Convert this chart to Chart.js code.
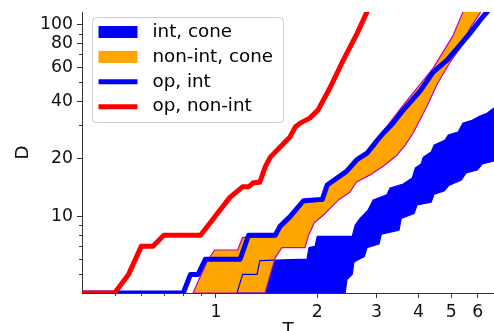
<!DOCTYPE html>
<html><head><meta charset="utf-8">
<script src="https://cdn.jsdelivr.net/npm/chart.js@4/dist/chart.umd.min.js"></script>
<style>html,body{margin:0;padding:0;overflow:hidden;background:#fff}canvas{display:block}</style>
</head><body>
<canvas id="c" width="494" height="350"></canvas>
<script>
// ---- data (T, D) ----
const opNonIntT = [0.4, 0.5, 0.55, 0.6, 0.65, 0.7, 0.9, 1.1, 1.2, 1.25, 1.29, 1.35, 1.4, 1.45, 1.55, 1.66, 1.72, 1.78, 1.9, 2.01, 2.18, 2.39, 2.63, 2.81, 2.97];
const opNonIntD = [4, 4, 5, 7, 7, 8, 8, 12.6, 14.3, 14.3, 15, 15.1, 18.1, 20.4, 23, 26, 29.3, 30.7, 32.6, 35.9, 46.8, 65.4, 90.4, 116.7, 134];

const opIntT = [0.4, 0.8, 0.84, 0.885, 0.93, 1.18, 1.25, 1.5, 1.55, 1.66, 1.82, 2.07, 2.14, 2.29, 2.45, 2.63, 2.81, 2.97, 3.14, 3.34, 3.6, 4.04, 4.42, 4.86, 5.31, 5.69, 6.09, 6.39, 6.7];
const opIntD = [4, 4, 5, 5, 6, 6, 8, 8, 8.9, 10, 12.1, 12.3, 14.6, 15.9, 17.3, 19.9, 21.4, 24.2, 27.2, 30.4, 35.9, 45.1, 56.6, 65.4, 78.3, 90.4, 105.6, 116.7, 129.5];

const nonIntConeUpT = [0.855, 0.9, 0.94, 0.99, 1.16, 1.2, 1.5, 1.55, 1.66, 1.82, 2.07, 2.14, 2.29, 2.45, 2.63, 2.81, 2.97, 3.14, 3.6, 4.42, 5.07, 5.42, 5.69, 6.35];
const nonIntConeUpD = [4, 4.9, 5.8, 6.7, 6.7, 7.8, 7.8, 8.7, 9.7, 11.8, 12.1, 14.3, 15.5, 16.9, 19.5, 20.9, 23.3, 27.9, 38.1, 59.4, 88.3, 116.7, 134, 180];
const nonIntConeLoT = [0.855, 1.4, 1.45, 1.5, 1.57, 1.84, 1.88, 1.96, 2.1, 2.31, 2.5, 2.61, 2.87, 3.14, 3.45, 3.65, 3.85, 4.24, 4.54, 4.96, 5.31, 5.69, 6.09, 6.35];
const nonIntConeLoD = [4, 4, 5, 6.1, 6.9, 6.9, 7.9, 9.3, 10.3, 12.2, 13.4, 15.1, 16.5, 18.3, 20.9, 23.6, 27.2, 37.7, 49, 63.8, 75.5, 96, 115, 134];

const intConeUpT = [1.155, 1.2, 1.325, 1.35, 1.865, 1.89, 1.97, 2.0, 2.54, 2.59, 2.68, 2.83, 2.93, 3.22, 3.29, 3.6, 3.83, 3.91, 4.07, 4.13, 4.36, 4.45, 4.8, 4.9, 5.24, 5.42, 5.77, 6.09, 6.39, 6.7, 7.0];
const intConeUpD = [4, 5, 5, 5.9, 6, 6.9, 7, 7.9, 7.9, 9, 9.8, 10.8, 12.2, 13, 14.1, 14.8, 15.9, 17.9, 18.8, 20.4, 21.7, 23.6, 25.1, 26.6, 27.6, 30.7, 31.8, 33.4, 34.6, 36.8, 38.5];
const intConeLoT = [1.155, 2.42, 2.45, 2.54, 2.57, 2.76, 2.81, 3.05, 3.1, 3.5, 3.55, 3.88, 3.96, 4.36, 4.45, 4.76, 4.93, 5.35, 5.54, 5.97, 6.18, 6.7, 7.0];
const intConeLoD = [4, 4, 4.7, 5, 5.8, 6.2, 6.9, 7.2, 8.1, 8.5, 9.8, 10.4, 11.5, 11.9, 13.1, 13.6, 14.6, 15.5, 16.9, 17.5, 18.8, 19.5, 20.5];

const xTickValues = [1, 2, 3, 4, 5, 6];
const yTickValues = [10, 20, 40, 60, 80, 100];
const xMinorValues = [0.5, 0.6, 0.7, 0.8, 0.9];
const yMinorValues = [5, 6, 7, 8, 9, 30, 50, 70, 90];
const legendLabels = ['int, cone', 'non-int, cone', 'op, int', 'op, non-int'];

function pts(T, D) { return T.map((t, i) => ({x: t, y: D[i]})); }

const FONT = "'DejaVu Sans', sans-serif";
const AX = '#333';

const common = {pointRadius: 0, pointHoverRadius: 0, tension: 0, clip: 0, borderJoinStyle: 'round'};

const minorTicks = {
  id: 'minorTicks',
  afterDraw(chart) {
    const {ctx, chartArea: a, scales: {x, y}} = chart;
    ctx.save();
    ctx.strokeStyle = AX; ctx.lineWidth = 1;
    ctx.beginPath();
    xMinorValues.forEach(v => { const p = Math.round(x.getPixelForValue(v)) + 0.5; ctx.moveTo(p, a.bottom); ctx.lineTo(p, a.bottom + 3); });
    yMinorValues.forEach(v => { const p = Math.round(y.getPixelForValue(v)) + 0.5; ctx.moveTo(a.left - 3, p); ctx.lineTo(a.left, p); });
    ctx.stroke();
    ctx.restore();
  }
};

const boxLegend = {
  id: 'boxLegend',
  afterDatasetsDraw(chart) {
    const {ctx, chartArea: a} = chart;
    const x0 = a.left + 10.5, y0 = a.top + 5.5, w = 191, h = 105, r = 4;
    ctx.save();
    ctx.beginPath();
    ctx.moveTo(x0 + r, y0);
    ctx.arcTo(x0 + w, y0, x0 + w, y0 + h, r);
    ctx.arcTo(x0 + w, y0 + h, x0, y0 + h, r);
    ctx.arcTo(x0, y0 + h, x0, y0, r);
    ctx.arcTo(x0, y0, x0 + w, y0, r);
    ctx.closePath();
    ctx.fillStyle = 'rgba(255,255,255,0.8)';
    ctx.fill();
    ctx.strokeStyle = '#cccccc'; ctx.lineWidth = 1;
    ctx.stroke();
    legendLabels.forEach((lab, i) => {
      const ds = chart.data.datasets.find(d => d.label === lab);
      const cy = y0 + 14.5 + i * 24.9;
      const hx = x0 + 6, hw = 39;
      if (ds.fill !== false) {
        ctx.fillStyle = ds.backgroundColor;
        ctx.fillRect(hx, cy - 6, hw, 12);
      } else {
        ctx.strokeStyle = ds.borderColor; ctx.lineWidth = ds.borderWidth;
        ctx.lineCap = 'butt';
        ctx.beginPath(); ctx.moveTo(hx, cy); ctx.lineTo(hx + hw, cy); ctx.stroke();
      }
      ctx.fillStyle = '#000';
      ctx.font = '18.3px ' + FONT;
      ctx.textBaseline = 'middle';
      ctx.textAlign = 'left';
      ctx.fillText(lab, x0 + 60, cy);
    });
    ctx.restore();
  }
};

new Chart(document.getElementById('c'), {
  type: 'line',
  data: {
    datasets: [
      Object.assign({label: 'op, non-int', data: pts(opNonIntT, opNonIntD), borderColor: '#ff0000', borderWidth: 5, fill: false, order: 0}, common),
      Object.assign({label: 'op, int', data: pts(opIntT, opIntD), borderColor: '#0000ff', borderWidth: 5, fill: false, order: 1}, common),
      Object.assign({label: 'non-int, cone', data: pts(nonIntConeUpT, nonIntConeUpD), borderColor: '#bf00bf', borderWidth: 1.2, fill: 3, backgroundColor: '#ffa500', order: 2}, common),
      Object.assign({label: 'non-int, cone (lower)', data: pts(nonIntConeLoT, nonIntConeLoD), borderColor: '#bf00bf', borderWidth: 1.2, fill: false, order: 3}, common),
      Object.assign({label: 'int, cone', data: pts(intConeUpT, intConeUpD), borderColor: '#0000ff', borderWidth: 1.2, fill: 5, backgroundColor: '#0000ff', order: 4}, common),
      Object.assign({label: 'int, cone (lower)', data: pts(intConeLoT, intConeLoD), borderColor: '#0000ff', borderWidth: 1.2, fill: false, order: 5}, common)
    ]
  },
  options: {
    responsive: false,
    animation: false,
    devicePixelRatio: 1,
    events: [],
    layout: {padding: {top: 12, left: 0, right: 0, bottom: 0}},
    plugins: {
      legend: {display: false},
      tooltip: {enabled: false},
      filler: {drawTime: 'beforeDatasetsDraw'}
    },
    scales: {
      x: {
        type: 'logarithmic', min: 0.4, max: 6.7,
        afterBuildTicks: s => { s.ticks = xTickValues.map(v => ({value: v})); },
        afterFit: s => { s.height = 57; s.paddingLeft = 0; s.paddingRight = 0; },
        ticks: {callback: v => String(v), font: {family: FONT, size: 17.3}, color: '#111', padding: 4.5, maxRotation: 0, autoSkip: false},
        grid: {drawOnChartArea: false, drawTicks: true, tickLength: 5, color: AX},
        border: {display: true, color: AX, width: 1},
        title: {display: true, text: 'T', font: {family: FONT, size: 18.3}, color: '#111', padding: {top: 0, bottom: 8.5}}
      },
      y: {
        type: 'logarithmic', min: 4, max: 116.5,
        afterBuildTicks: s => { s.ticks = yTickValues.map(v => ({value: v})); },
        afterFit: s => { s.width = 82; s.paddingTop = 0; s.paddingBottom = 0; },
        ticks: {callback: v => String(v), font: {family: FONT, size: 17.3}, color: '#111', padding: 4, autoSkip: false},
        grid: {drawOnChartArea: false, drawTicks: true, tickLength: 5, color: AX},
        border: {display: true, color: AX, width: 1},
        title: {display: true, text: 'D', font: {family: FONT, size: 18.3}, color: '#111', padding: {top: 12.5, bottom: 0}}
      }
    }
  },
  plugins: [minorTicks, boxLegend]
});
</script>
</body></html>
